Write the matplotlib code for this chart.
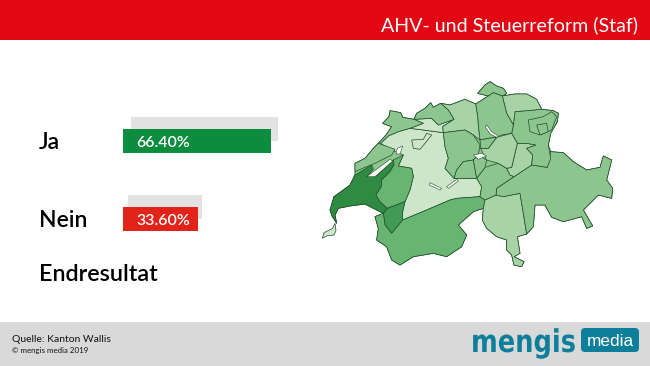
import matplotlib
matplotlib.use('Agg')
import matplotlib.pyplot as plt
import matplotlib.patheffects as pe
from matplotlib.patches import Polygon, Rectangle, FancyBboxPatch
from matplotlib.transforms import Affine2D

plt.rcParams['font.family'] = ['Lato', 'DejaVu Sans']

W, H = 650, 366

# resultat
labels = ['Ja', 'Nein']
values = [66.40, 33.60]
value_texts = ['66.40%', '33.60%']
bar_colors = ['#0b8c3f', '#e2231a']
shadow_shift = [3.4, 2.0]

# kantonsfarben
c1 = '#2f8a42'
c2 = '#429a55'
c3 = '#68b572'
c4 = '#8cc58d'
c5 = '#a8d3a6'
c6 = '#cde5c9'

# umriss der schweiz
schweiz = [(205,190),(228,165),(245,140),(218,130),(237,110),(240,92),(272,98),(278,112),(312,118),(320,100),(345,85),(362,68),(370,82),(392,70),(420,75),(465,58),(497,72),(535,48),(503,40),(525,15),(540,5),(560,18),(580,25),(590,40),(577,48),(615,42),(650,42),(680,58),(695,88),(730,92),(745,100),(742,125),(722,160),(715,195),(722,215),(760,218),(790,245),(830,270),(870,262),(880,228),(905,240),(890,300),(908,325),(905,355),(865,345),(835,375),(820,390),(848,438),(830,445),(815,410),(760,425),(725,412),(705,375),(675,375),(670,440),(650,462),(622,470),(630,520),(612,530),(642,545),(635,560),(612,555),(605,525),(590,510),(590,480),(560,470),(530,445),(517,420),(520,385),(490,395),(445,435),(470,465),(455,500),(410,530),(370,520),(310,530),(270,555),(245,540),(230,500),(200,480),(205,445),(195,410),(220,400),(190,385),(165,372),(120,378),(85,385),(75,405),(80,430),(66,408),(60,390),(72,350),(100,330),(120,315),(135,285),(135,250),(165,235),(190,205)]

# kantone
geneva = [(37,475),(42,458),(68,445),(75,430),(78,452),(72,465),(50,468)]
vaud = [(60,390),(72,350),(100,330),(120,315),(135,285),(185,255),(190,268),(170,290),(195,290),(225,265),(250,240),(252,255),(240,275),(215,300),(215,318),(198,345),(210,365),(232,385),(220,400),(190,385),(165,372),(120,378),(85,385),(75,405),(80,430),(66,408)]
neuchatel = [(135,250),(165,235),(190,205),(205,190),(255,208),(245,225),(195,250),(165,262),(135,275)]
fribourg = [(198,345),(215,318),(215,300),(240,275),(252,255),(250,240),(280,225),(265,258),(305,265),(310,290),(300,330),(285,365),(232,385),(210,365)]
jura = [(205,190),(228,165),(245,140),(218,130),(237,110),(240,92),(272,98),(278,112),(312,118),(340,130),(300,145),(265,155),(235,168),(212,190)]
bern = [(212,190),(235,168),(265,155),(300,145),(340,150),(400,158),(405,200),(415,235),(405,265),(432,295),(500,295),(515,320),(510,350),(440,355),(420,360),(350,390),(278,420),(278,395),(285,365),(300,330),(310,290),(305,265),(265,258),(280,225),(240,208)]
solothurn = [(300,145),(340,130),(312,118),(365,115),(385,135),(432,118),(398,140),(400,158),(340,150)]
enclave = [(305,180),(340,178),(350,160),(365,165),(345,190),(330,208),(310,205)]
aigle = [(220,400),(232,385),(285,365),(278,395),(278,420),(245,460),(225,435)]
valais = [(195,410),(220,400),(225,435),(245,460),(278,420),(350,390),(420,360),(440,355),(510,350),(525,360),(520,385),(490,395),(445,435),(470,465),(455,500),(410,530),(370,520),(310,530),(270,555),(245,540),(230,500),(200,480),(205,445)]
ticino = [(520,385),(525,360),(558,345),(580,350),(630,340),(640,400),(650,462),(622,470),(630,520),(612,530),(642,545),(635,560),(612,555),(605,525),(590,510),(590,480),(560,470),(530,445),(517,420)]
graubuenden = [(558,345),(560,325),(612,290),(665,255),(712,262),(722,215),(760,218),(790,245),(830,270),(870,262),(880,228),(905,240),(890,300),(908,325),(905,355),(865,345),(835,375),(820,390),(848,438),(830,445),(815,410),(760,425),(725,412),(705,375),(675,375),(670,440),(650,462),(640,400),(630,340),(580,350)]
uri = [(525,262),(565,250),(590,265),(600,285),(612,290),(560,325),(558,345),(525,360),(510,350),(515,320),(500,295)]
glarus = [(622,190),(650,190),(678,195),(650,205),(668,225),(665,255),(612,290),(600,285),(590,265),(605,262)]
st_gallen = [(615,95),(695,88),(730,92),(745,100),(742,125),(722,160),(715,195),(722,235),(712,262),(665,255),(668,225),(650,205),(678,195),(650,190),(622,190),(605,160),(610,135)]
appenzell = [(655,120),(700,110),(725,95),(740,110),(725,150),(690,165),(660,155)]
innerrhoden = [(680,135),(710,130),(715,155),(690,165)]
thurgau = [(577,48),(615,42),(650,42),(680,58),(695,88),(615,95),(610,135),(590,100)]
schaffhausen = [(503,40),(525,15),(540,5),(560,18),(580,25),(590,40),(577,48),(550,38),(535,48)]
zuerich = [(497,72),(535,48),(550,38),(577,48),(590,100),(610,135),(605,160),(575,165),(560,172),(535,175),(510,180),(505,140),(503,110)]
aargau = [(392,70),(420,75),(465,58),(497,72),(503,110),(505,140),(510,180),(490,165),(465,150),(400,158),(398,140),(432,118),(415,90)]
baselland = [(312,118),(320,100),(345,85),(362,68),(370,82),(392,70),(415,90),(432,118),(385,135),(365,115)]
luzern = [(400,158),(465,150),(490,165),(510,195),(505,225),(490,240),(460,245),(440,270),(432,295),(405,265),(415,235),(405,200)]
obwalden = [(440,270),(460,245),(490,240),(500,295),(432,295)]
nidwalden = [(490,240),(505,225),(530,240),(525,262),(500,295)]
zug = [(510,180),(535,175),(560,172),(535,205),(512,205)]
schwyz = [(512,205),(535,205),(560,172),(605,160),(622,190),(605,262),(590,265),(565,250),(530,240),(520,222)]

cantons = [bern, solothurn, enclave, geneva, vaud, neuchatel, fribourg, jura, aigle, valais, ticino, graubuenden, uri, glarus,
           st_gallen, appenzell, innerrhoden, thurgau, schaffhausen, zuerich, aargau, baselland, luzern, obwalden, nidwalden, schwyz, zug]
canton_colors = [c6, c6, c6, c6, c1, c4, c3, c4, c2, c3, c5, c4, c4, c5,
                 c4, c4, c4, c5, c4, c4, c5, c4, c4, c4, c4, c5, c4]

lakes = [[(530,135),(545,155),(565,168),(560,172),(540,162),(526,140)],
         [(360,308),(395,325),(390,330),(358,315)],
         [(410,320),(440,298),(445,303),(415,325)],
         [(170,290),(240,238),(248,243),(195,290)],
         [(262,205),(278,198),(270,222),(258,222)],
         [(490,225),(515,220),(530,228),(505,238)]]

fig = plt.figure(figsize=(W / 100, H / 100), dpi=100, facecolor='white')

def box(x0, y0, x1, y1):
    return [x0 / W, 1 - y1 / H, (x1 - x0) / W, (y1 - y0) / H]

# schrift des logos ist hoch und schmal
class Tall(pe.AbstractPathEffect):
    def draw_path(self, renderer, gc, tpath, affine, rgbFace=None):
        renderer.draw_path(gc, tpath, Affine2D().scale(1, 1.22) + affine, rgbFace)

# kopf und fuss
fig.patches.append(Rectangle((0, 1 - 40 / H), 1, 40 / H, transform=fig.transFigure, color='#e30613', lw=0, zorder=-2))
fig.patches.append(Rectangle((0, 0), 1, 44 / H, transform=fig.transFigure, color='#d9d9d9', lw=0, zorder=-2))
fig.text(638 / W, 1 - 25 / H, 'AHV- und Steuerreform (Staf)', color='white', fontsize=14.1, ha='right', va='center')
fig.text(12 / W, 1 - 339 / H, 'Quelle: Kanton Wallis', color='#111111', fontsize=7.5, va='center')
fig.text(12 / W, 1 - 351 / H, '© mengis media 2019', color='#111111', fontsize=5.7, va='center')

# balken
ax = fig.add_axes(box(123.4, 100, 345.4, 300))
ax.set_xlim(0, 100)
ax.set_ylim(2.038, -0.53)
ax.axis('off')
for i in range(len(labels)):
    ax.barh(i - 0.154, values[i], left=shadow_shift[i], height=0.308, color='#e2e2e2', lw=0)
    ax.barh(i, values[i], height=0.308, color=bar_colors[i], lw=0)
    ax.text(6.0, i, value_texts[i], color='white', fontsize=11.5, fontweight='semibold', va='center_baseline')
    ax.text(-38, i - 0.01, labels[i], color='black', fontsize=16.5, fontweight='semibold', va='center_baseline', clip_on=False)
ax.text(-38, 1.68, 'Endresultat', color='black', fontsize=16.8, fontweight='semibold', va='center_baseline', clip_on=False)

# karte
m = fig.add_axes(box(310, 80, 630, 290))
m.set_xlim(0, 960)
m.set_ylim(630, 0)
m.axis('off')
m.add_patch(Polygon(schweiz, closed=True, facecolor=c4, edgecolor='#1f4d2a', lw=0.6))
for shape, col in zip(cantons, canton_colors):
    m.add_patch(Polygon(shape, closed=True, facecolor=col, edgecolor='#1f4d2a', lw=0.5))
for shape in lakes:
    m.add_patch(Polygon(shape, closed=True, facecolor='white', edgecolor='#1f4d2a', lw=0.4))

# logo
fig.text(471 / W, 1 - 352 / H, 'mengis', color='#0e7f9a', fontsize=18.5, fontweight='bold',
         family=['DejaVu Sans'], va='baseline', path_effects=[Tall()])
logo = fig.add_axes(box(440, 310, 650, 366))
logo.set_xlim(440, 650)
logo.set_ylim(366, 310)
logo.axis('off')
logo.add_patch(FancyBboxPatch((581, 328), 58, 24, boxstyle='round,pad=0,rounding_size=4', facecolor='#0e7f9a', edgecolor='none'))
logo.text(610.5, 340, 'media', color='white', fontsize=12.4, ha='center', va='center_baseline', family=['Liberation Sans'])

fig.savefig('out.png', dpi=100)
